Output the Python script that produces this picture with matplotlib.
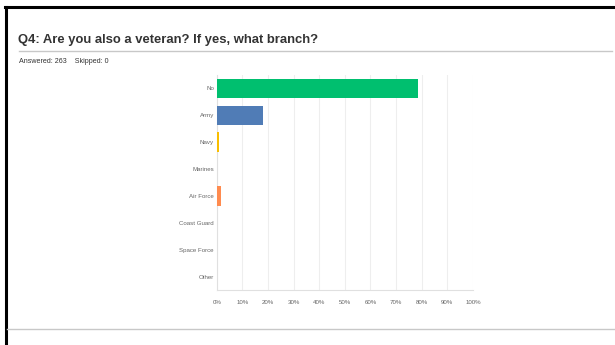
import matplotlib.pyplot as plt
from matplotlib.lines import Line2D

categories = ['No', 'Army', 'Navy', 'Marines', 'Air Force', 'Coast Guard', 'Space Force', 'Other']
percents = [78.71, 17.87, 0.76, 0.0, 1.52, 0.0, 0.0, 0.0]
colors = ['#00bf6f', '#507cb6', '#f9be00', '#6bc8cd', '#ff8b4f', '#7d5e90', '#a7a9ac', '#d25f90']
ticks = [0, 10, 20, 30, 40, 50, 60, 70, 80, 90, 100]
tick_labels = ['%d%%' % t for t in ticks]

plt.rcParams['font.family'] = ['Liberation Sans', 'DejaVu Sans']

fig = plt.figure(figsize=(6.15, 3.45), dpi=100)
fig.patch.set_facecolor('white')

# frame lines
fig.add_artist(Line2D([5 / 615, 1], [1 - 7 / 345, 1 - 7 / 345], color='black', lw=2.2))
fig.add_artist(Line2D([6 / 615, 6 / 615], [0, 1 - 7 / 345], color='black', lw=2.2))
fig.add_artist(Line2D([19 / 615, 612 / 615], [1 - 50.5 / 345, 1 - 50.5 / 345], color='#c8c8c8', lw=1))
fig.add_artist(Line2D([7 / 615, 614 / 615], [1 - 329 / 345, 1 - 329 / 345], color='#c8c8c8', lw=1))

fig.text(18 / 615, 1 - 42.5 / 345, 'Q4: Are you also a veteran? If yes, what branch?',
         fontsize=9.4, fontweight='bold', color='#333333', va='baseline')
fig.text(19 / 615, 1 - 63 / 345, 'Answered: 263    Skipped: 0',
         fontsize=5.1, color='#333333', va='baseline')

ax = fig.add_axes([216.7 / 615, 55 / 345, 256.3 / 615, 215 / 345])
y = list(range(len(categories)))
ax.barh(y, percents, height=0.73, color=colors, zorder=3)
ax.set_xlim(0, 100)
ax.set_ylim(7.5, -0.5)
ax.set_xticks(ticks)
ax.set_xticklabels(tick_labels)
ax.set_yticks(y)
ax.set_yticklabels(categories)
ax.tick_params(axis='both', length=0, labelsize=4.4, colors='#666666')
ax.tick_params(axis='x', pad=7)
ax.tick_params(axis='y', pad=2)
ax.grid(axis='x', color='#eeeeee', lw=0.8, zorder=0)
for s in ['top', 'right']:
    ax.spines[s].set_visible(False)
ax.spines['left'].set_color('#e0e0e0')
ax.spines['bottom'].set_color('#e0e0e0')
ax.spines['left'].set_linewidth(0.8)
ax.spines['bottom'].set_linewidth(0.8)

fig.savefig('out.png', dpi=100)
